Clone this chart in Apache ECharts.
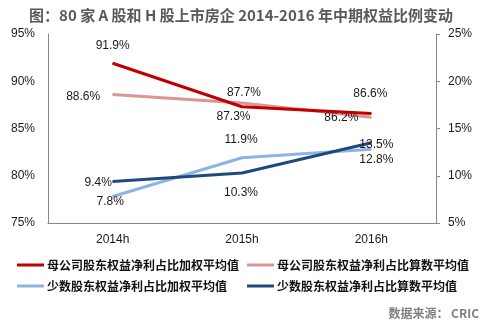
<!DOCTYPE html>
<html><head><meta charset="utf-8">
<script src="https://cdn.jsdelivr.net/npm/echarts@6/dist/echarts.min.js"></script>
<style>html,body{margin:0;padding:0;background:#fff}#c{width:489px;height:322px}</style>
</head><body><div id="c"></div>
<script>
var categories = ['2014h', '2015h', '2016h'];
var parentWeighted = [91.9, 87.3, 86.6];
var parentArithmetic = [88.6, 87.7, 86.2];
var minorityWeighted = [7.8, 11.9, 12.8];
var minorityArithmetic = [9.4, 10.3, 13.5];
var seriesNames = ['母公司股东权益净利占比加权平均值', '母公司股东权益净利占比算数平均值', '少数股东权益净利占比加权平均值', '少数股东权益净利占比算数平均值'];
var leftTicks = [75, 80, 85, 90, 95];
var rightTicks = [5, 10, 15, 20, 25];

var colors = ['#C00000', '#D99694', '#8EB4E3', '#1F497D'];
var offsets = [
  [[0, -17.6], [-8.5, 10], [-1, -19.5]],
  [[-29.5, 2], [2, -9.8], [-30, 1]],
  [[-2.5, 5], [-1, -18.4], [5, 10]],
  [[-14.5, 1.6], [-1, 20], [5, 2.4]]
];
var allData = [parentWeighted, parentArithmetic, minorityWeighted, minorityArithmetic];
var axisIdx = [0, 0, 1, 1];
var font = '"Liberation Sans", Arial, sans-serif';
var cjk = '"Noto Sans CJK SC", sans-serif';

var series = allData.map(function (arr, i) {
  return {
    name: seriesNames[i], type: 'line', yAxisIndex: axisIdx[i],
    symbol: 'circle', symbolSize: 1, showSymbol: true,
    lineStyle: { color: colors[i], width: 3 },
    itemStyle: { color: colors[i] },
    z: i === 0 || i === 3 ? 3 : 2,
    data: arr.map(function (v, j) {
      return { value: v, label: { show: true, position: 'inside', offset: offsets[i][j],
        formatter: v.toFixed(1) + '%', color: '#1a1a1a', fontSize: 12, fontFamily: font } };
    })
  };
});

var legendPos = [[17, 259], [247, 259], [17, 280], [247, 280]];
var legends = seriesNames.map(function (n, i) {
  return { data: [n], left: legendPos[i][0], top: legendPos[i][1], icon: 'rect',
    itemWidth: 27, itemHeight: 3, itemGap: 0, padding: 0, selectedMode: false,
    textStyle: { fontSize: 12, fontFamily: cjk, fontWeight: 'bold', color: '#111', padding: [0, 0, 0, -2] } };
});

var chart = echarts.init(document.getElementById('c'));
chart.setOption({
  animation: false,
  color: colors,
  grid: { left: 48, right: 53, top: 34, bottom: 99, containLabel: false },
  legend: legends,
  xAxis: { type: 'category', data: categories, boundaryGap: true,
    axisLine: { lineStyle: { color: '#868686', width: 1 } }, axisTick: { show: false },
    axisLabel: { color: '#1a1a1a', fontSize: 12, fontFamily: font, margin: 11 } },
  yAxis: [
    { type: 'value', min: leftTicks[0], max: leftTicks[leftTicks.length - 1], interval: 5,
      splitLine: { show: false }, axisLine: { show: true, lineStyle: { color: '#868686' } },
      axisTick: { show: false },
      axisLabel: { formatter: '{value}%', color: '#1a1a1a', fontSize: 12, fontFamily: font, margin: 13 } },
    { type: 'value', min: rightTicks[0], max: rightTicks[rightTicks.length - 1], interval: 5, position: 'right',
      splitLine: { show: false }, axisLine: { show: true, lineStyle: { color: '#868686' } },
      axisTick: { show: true, length: 4, lineStyle: { color: '#868686' } },
      axisLabel: { formatter: '{value}%', color: '#1a1a1a', fontSize: 12, fontFamily: font, margin: 12 } }
  ],
  graphic: [
    { type: 'text', x: 241, y: 15, style: { text: '图：80 家 A 股和 H 股上市房企 2014-2016 年中期权益比例变动',
      font: 'bold 15px "Noto Sans CJK SC", sans-serif', fill: '#595959', align: 'center', verticalAlign: 'middle' } },
    { type: 'text', x: 479, y: 313, style: { text: '数据来源： CRIC',
      font: 'bold 12px "Noto Sans CJK SC", sans-serif', fill: '#7f7f7f', align: 'right', verticalAlign: 'middle' } }
  ],
  series: series
});
</script></body></html>
